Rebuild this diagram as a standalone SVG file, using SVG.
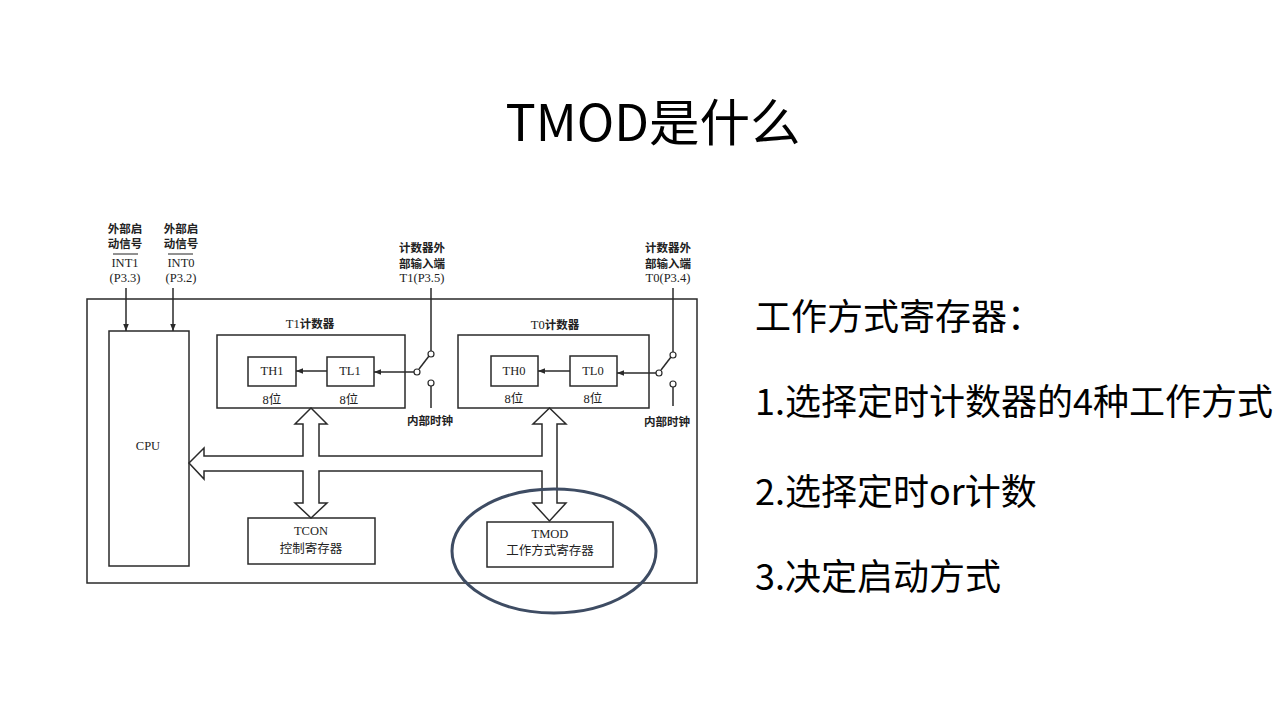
<svg xmlns="http://www.w3.org/2000/svg" width="1280" height="720" viewBox="0 0 1280 720">
<defs>
<style>
.ln{fill:none;stroke:#2a2a2a;stroke-width:1.5}
.bx{fill:#fff;stroke:#2a2a2a;stroke-width:1.5}
.lt{font-family:"Liberation Serif","Noto Sans CJK SC",serif;font-size:12.5px;fill:#222;text-anchor:middle}
.cj{font-family:"Noto Sans CJK SC",sans-serif;font-size:11.5px;font-weight:bold;fill:#222;text-anchor:middle}
.big{font-family:"Noto Sans CJK SC",sans-serif;fill:#000}
.pin{fill:#fff;stroke:#2a2a2a;stroke-width:1.2}
</style>
<marker id="ah" viewBox="0 0 10 10" refX="10" refY="5" markerWidth="7" markerHeight="7" markerUnits="userSpaceOnUse" orient="auto">
<path d="M0,1 L10,5 L0,9 Z" fill="#2a2a2a"/>
</marker>
</defs>
<rect width="1280" height="720" fill="#fff"/>
<text class="big" x="653" y="141" font-size="50.5" text-anchor="middle">TMOD是什么</text>

<g id="outer"><rect class="bx" x="87" y="299" width="610" height="284"/></g>

<g id="labels">
<text class="cj" x="125" y="233">外部启</text>
<text class="cj" x="125" y="248">动信号</text>
<text class="lt" x="125" y="267">INT1</text>
<line x1="113" y1="254" x2="138" y2="254" stroke="#222" stroke-width="1"/>
<text class="lt" x="125" y="282">(P3.3)</text>
<text class="cj" x="181" y="233">外部启</text>
<text class="cj" x="181" y="248">动信号</text>
<text class="lt" x="181" y="267">INT0</text>
<line x1="168" y1="254" x2="193" y2="254" stroke="#222" stroke-width="1"/>
<text class="lt" x="181" y="282">(P3.2)</text>
<text class="cj" x="422" y="252">计数器外</text>
<text class="cj" x="422" y="268">部输入端</text>
<text class="lt" x="422" y="282">T1(P3.5)</text>
<text class="cj" x="668" y="252">计数器外</text>
<text class="cj" x="668" y="268">部输入端</text>
<text class="lt" x="668" y="282">T0(P3.4)</text>
<text class="cj" x="430" y="425">内部时钟</text>
<text class="cj" x="667" y="426">内部时钟</text>
</g>

<g id="cpu"><rect class="bx" x="109" y="331" width="80" height="235"/><text class="lt" x="148" y="450">CPU</text></g>

<g id="t1">
<rect class="bx" x="217" y="335" width="188" height="73"/>
<text class="lt" x="310" y="328"><tspan>T1</tspan><tspan font-family="Noto Sans CJK SC" font-weight="bold" font-size="11.5">计数器</tspan></text>
<text class="lt" x="272" y="404">8位</text>
<text class="lt" x="349" y="404">8位</text>
</g>
<g id="th1"><rect class="bx" x="248" y="357" width="48" height="29"/><text class="lt" x="272" y="375">TH1</text></g>
<g id="tl1"><rect class="bx" x="327" y="357" width="47" height="29"/><text class="lt" x="350" y="375">TL1</text></g>

<g id="t0">
<rect class="bx" x="458" y="335" width="191" height="73"/>
<text class="lt" x="555" y="329"><tspan>T0</tspan><tspan font-family="Noto Sans CJK SC" font-weight="bold" font-size="11.5">计数器</tspan></text>
<text class="lt" x="514" y="403">8位</text>
<text class="lt" x="593" y="403">8位</text>
</g>
<g id="th0"><rect class="bx" x="491" y="356" width="47" height="30"/><text class="lt" x="514" y="375">TH0</text></g>
<g id="tl0"><rect class="bx" x="570" y="356" width="47" height="30"/><text class="lt" x="593" y="375">TL0</text></g>

<g id="tcon"><rect class="bx" x="248" y="518" width="127" height="46"/><text class="lt" x="311" y="535">TCON</text><text class="lt" x="311" y="553" font-size="13">控制寄存器</text></g>
<g id="tmod"><rect class="bx" x="487" y="522" width="126" height="45"/><text class="lt" x="550" y="538">TMOD</text><text class="lt" x="550" y="555" font-size="13">工作方式寄存器</text></g>

<g id="connectors">
<line class="ln" x1="126" y1="288" x2="126" y2="331" marker-end="url(#ah)"/>
<line class="ln" x1="173" y1="288" x2="173" y2="331" marker-end="url(#ah)"/>
<line class="ln" x1="327" y1="371" x2="296" y2="371" marker-end="url(#ah)"/>
<line class="ln" x1="570" y1="371" x2="538" y2="371" marker-end="url(#ah)"/>
<line class="ln" x1="414" y1="372" x2="374" y2="372" marker-end="url(#ah)"/>
<line class="ln" x1="656" y1="373" x2="617" y2="373" marker-end="url(#ah)"/>
<line class="ln" x1="431" y1="288" x2="431" y2="351"/>
<line class="ln" x1="431" y1="386" x2="431" y2="408"/>
<line class="ln" x1="419" y1="369" x2="429" y2="356"/>
<circle class="pin" cx="417" cy="372" r="3"/>
<circle class="pin" cx="431" cy="354" r="3"/>
<circle class="pin" cx="431" cy="383" r="3"/>
<line class="ln" x1="673" y1="288" x2="673" y2="352"/>
<line class="ln" x1="673" y1="387" x2="673" y2="406"/>
<line class="ln" x1="661" y1="370" x2="671" y2="357"/>
<circle class="pin" cx="659" cy="373" r="3"/>
<circle class="pin" cx="673" cy="355" r="3"/>
<circle class="pin" cx="673" cy="384" r="3"/>
<path class="bx" d="M189,463 L204,448 L204,456 L303,456 L303,424 L295,424 L311,408 L327,424 L319,424 L319,456 L542,456 L542,424 L533,424 L549.5,408 L566,424 L557,424 L557,503 L566,503 L549.5,521 L533,503 L542,503 L542,471 L319,471 L319,503 L327,503 L311,518 L295,503 L303,503 L303,471 L204,471 L204,479 Z"/>
</g>

<ellipse cx="554" cy="551" rx="102" ry="62" fill="none" stroke="#3E4C63" stroke-width="3"/>

<g id="notes" class="big" font-size="36">
<text x="755" y="330">工作方式寄存器：</text>
<text x="755" y="415">1.选择定时计数器的4种工作方式</text>
<text x="755" y="505">2.选择定时or计数</text>
<text x="755" y="590">3.决定启动方式</text>
</g>
</svg>
